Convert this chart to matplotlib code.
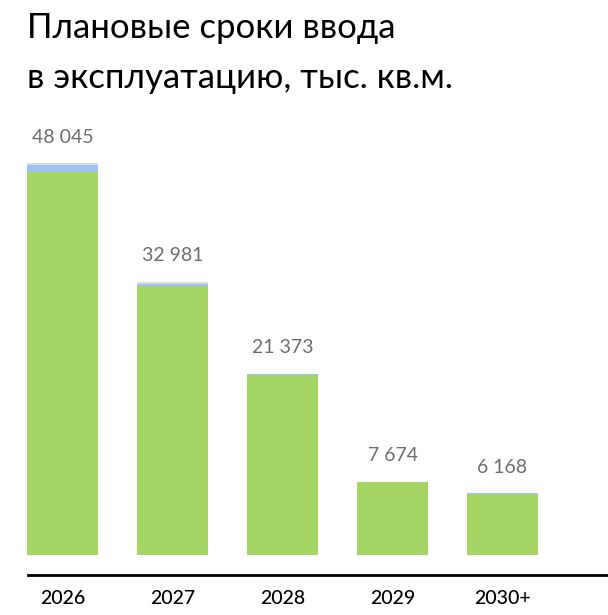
import matplotlib
matplotlib.use("Agg")
import matplotlib.pyplot as plt

# данные, тыс. кв.м.
годы = ["2026", "2027", "2028", "2029", "2030+"]
итого = [48045, 32981, 21373, 7674, 6168]
синие = [800, 250, 120, 120, 100]
серые = [250, 200, 0, 0, 0]
зеленые = [t - b - g for t, b, g in zip(итого, синие, серые)]

ПОДЛОЖКА = 1700  # бары начинаются чуть ниже нуля

plt.rcParams['font.family'] = ['Lato', 'DejaVu Sans']

fig = plt.figure(figsize=(6.08, 6.15), dpi=100)
ax = fig.add_axes([0, 0, 1, 1])

x = list(range(len(годы)))
w = 0.64
низ = [-ПОДЛОЖКА] * len(x)
ax.bar(x, [g + ПОДЛОЖКА for g in зеленые], w, bottom=низ, color="#a5d564", linewidth=0)
ax.bar(x, синие, w, bottom=зеленые, color="#9ec3f3", linewidth=0)
низ3 = [a + b for a, b in zip(зеленые, синие)]
ax.bar(x, серые, w, bottom=низ3, color="#d9d9d9", linewidth=0)

for xi, t in zip(x, итого):
    ax.annotate(f"{t:,}".replace(",", " "), (xi, t), xytext=(0, 15), textcoords="offset points",
                ha="center", va="baseline", fontsize=14, color="#6e6e6e")

# масштаб: 0 на 542 px, 7.88 px на 1000
px = 7.88 / 1000
ax.set_ylim(-(615 - 542) / px, 542 / px)
ax.set_xlim(-62.5 / 110, (608 - 62.5) / 110)

for s in ["top", "right", "left"]:
    ax.spines[s].set_visible(False)
ax.spines["bottom"].set_position(("data", -(575 - 542) / px))
ax.spines["bottom"].set_bounds((28 - 62.5) / 110, (608 - 62.5) / 110)
ax.spines["bottom"].set_linewidth(2)
ax.set_yticks([])
ax.set_xticks(x)
ax.set_xticklabels(годы, fontsize=14, color="black", fontweight="medium")
ax.tick_params(axis="x", length=0, pad=11)

fig.text(27 / 608, 1 - 38 / 615, "Плановые сроки ввода", fontsize=25, va="baseline", ha="left")
fig.text(27 / 608, 1 - 88 / 615, "в эксплуатацию, тыс. кв.м.", fontsize=25, va="baseline", ha="left")

fig.savefig("out.png", dpi=100)
